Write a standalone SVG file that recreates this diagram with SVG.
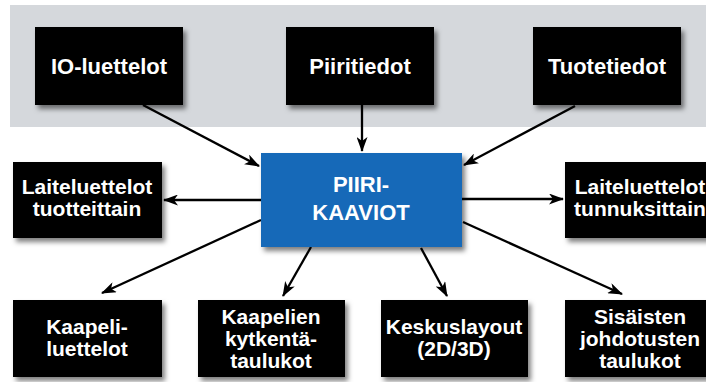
<svg xmlns="http://www.w3.org/2000/svg" width="706" height="382" viewBox="0 0 706 382">
<defs>
<filter id="sh" x="-10%" y="-10%" width="130%" height="140%">
<feDropShadow dx="3" dy="4" stdDeviation="2.5" flood-color="#000" flood-opacity="0.5"/>
</filter>
<marker id="ah" viewBox="0 0 15 11" refX="14" refY="5.5" markerWidth="15" markerHeight="11" markerUnits="userSpaceOnUse" orient="auto">
<path d="M0,0 L15,5.5 L0,11 L4,5.5 z" fill="#000"/>
</marker>
</defs>
<style>
.box{fill:#000;filter:url(#sh)}
.main{fill:#1769b8;filter:url(#sh)}
text{font-family:"Liberation Sans",Arial,sans-serif;font-weight:bold;fill:#fff;text-anchor:middle}
.t1{font-size:22px}
.t2{font-size:21px}
.c{font-size:22px}
.ln{stroke:#000;stroke-width:2.3;fill:none;marker-end:url(#ah)}
</style>
<rect x="10" y="5" width="696" height="122" fill="#d5d8dc"/>
<g id="connectors">
<line class="ln" x1="143" y1="105" x2="259" y2="166"/>
<line class="ln" x1="362" y1="105" x2="362" y2="151"/>
<line class="ln" x1="575" y1="106" x2="464" y2="165"/>
<line class="ln" x1="261" y1="200" x2="164" y2="200"/>
<line class="ln" x1="462" y1="199" x2="563" y2="199"/>
<line class="ln" x1="261" y1="220" x2="102" y2="293"/>
<line class="ln" x1="311" y1="247" x2="283" y2="296"/>
<line class="ln" x1="421" y1="248" x2="447" y2="296"/>
<line class="ln" x1="463" y1="222" x2="622" y2="294"/>
</g>
<g id="io">
<rect class="box" x="35" y="27" width="148" height="78"/>
<text class="t1" x="109" y="74">IO-luettelot</text>
</g>
<g id="piiritiedot">
<rect class="box" x="286" y="27" width="148" height="78"/>
<text class="t1" x="360" y="74">Piiritiedot</text>
</g>
<g id="tuotetiedot">
<rect class="box" x="533" y="27" width="148" height="78"/>
<text class="t1" x="607" y="74">Tuotetiedot</text>
</g>
<g id="piirikaaviot">
<rect class="main" x="261" y="153" width="201" height="94"/>
<text class="c" x="361" y="192">PIIRI-</text>
<text class="c" x="361" y="220">KAAVIOT</text>
</g>
<g id="laite-tuotteittain">
<rect class="box" x="13" y="162" width="149" height="76"/>
<text class="t2" x="87" y="194">Laiteluettelot</text>
<text class="t2" x="87" y="216">tuotteittain</text>
</g>
<g id="laite-tunnuksittain">
<rect class="box" x="565" y="162" width="149" height="76"/>
<text class="t2" x="640" y="194">Laiteluettelot</text>
<text class="t2" x="640" y="216">tunnuksittain</text>
</g>
<g id="kaapeliluettelot">
<rect class="box" x="13" y="300" width="149" height="77"/>
<text class="t2" x="87" y="334">Kaapeli-</text>
<text class="t2" x="87" y="356">luettelot</text>
</g>
<g id="kytkentataulukot">
<rect class="box" x="198" y="300" width="147" height="77"/>
<text class="t2" x="271" y="324">Kaapelien</text>
<text class="t2" x="271" y="346">kytkentä-</text>
<text class="t2" x="271" y="368">taulukot</text>
</g>
<g id="keskuslayout">
<rect class="box" x="381" y="300" width="147" height="77"/>
<text class="t2" x="454" y="334">Keskuslayout</text>
<text class="t2" x="454" y="356">(2D/3D)</text>
</g>
<g id="sisaiset">
<rect class="box" x="565" y="300" width="149" height="77"/>
<text class="t2" x="640" y="324">Sisäisten</text>
<text class="t2" x="640" y="346">johdotusten</text>
<text class="t2" x="640" y="368">taulukot</text>
</g>
</svg>
